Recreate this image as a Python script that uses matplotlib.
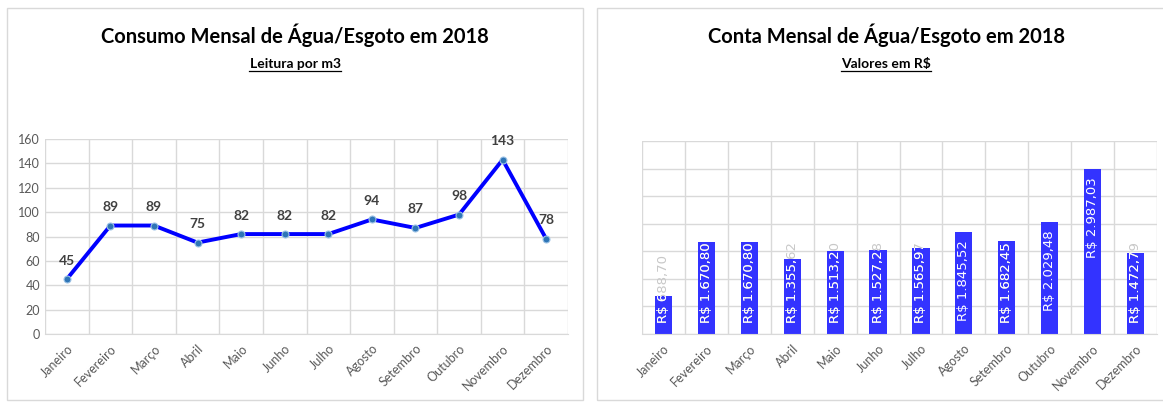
import matplotlib
matplotlib.use("Agg")
import matplotlib.pyplot as plt
from matplotlib.patches import Rectangle
from matplotlib.lines import Line2D

meses = ["Janeiro", "Fevereiro", "Março", "Abril", "Maio", "Junho", "Julho",
         "Agosto", "Setembro", "Outubro", "Novembro", "Dezembro"]
consumo_m3 = [45, 89, 89, 75, 82, 82, 82, 94, 87, 98, 143, 78]
conta_rs = [688.70, 1670.80, 1670.80, 1355.62, 1513.20, 1527.28, 1565.97,
            1845.52, 1682.45, 2029.48, 2987.03, 1472.79]

W, H = 1163, 403
FONT = "Lato"
GRID = "#D9D9D9"
TICK = "#595959"


def px_axes(fig, x0, y0, x1, y1):
    # pixel box (top-left origin) -> figure fraction
    return fig.add_axes([x0 / W, 1 - y1 / H, (x1 - x0) / W, (y1 - y0) / H])


def brl(v):
    s = f"{v:,.2f}"
    s = s.replace(",", "X").replace(".", ",").replace("X", ".")
    return "R$ " + s


def style_axes(ax):
    for side in ["top", "left", "right"]:
        ax.spines[side].set_visible(False)
    ax.spines["bottom"].set_color(GRID)
    ax.set_xlim(-0.5, len(meses) - 0.5)
    ax.set_xticks(range(len(meses)))
    ax.set_xticklabels(meses, rotation=45, ha="right", rotation_mode="anchor",
                       fontsize=9, color=TICK, family=FONT)
    ax.set_xticks([i + 0.5 for i in range(-1, len(meses))], minor=True)
    ax.tick_params(axis="x", which="both", length=0, pad=6)
    ax.tick_params(axis="y", length=0)
    ax.grid(True, axis="y", color=GRID, linewidth=1)
    ax.grid(True, axis="x", which="minor", color=GRID, linewidth=1)
    ax.grid(False, axis="x", which="major")
    ax.set_axisbelow(True)


fig = plt.figure(figsize=(W / 100, H / 100), dpi=100)

# panel borders
fig.patches.append(Rectangle((7 / W, 1 - 400 / H), 576 / W, 392 / H,
                             transform=fig.transFigure, fill=False,
                             edgecolor=GRID, linewidth=1))
fig.patches.append(Rectangle((597 / W, 1 - 400 / H), 600 / W, 392 / H,
                             transform=fig.transFigure, fill=False,
                             edgecolor=GRID, linewidth=1))

# --- consumo (linha)
ax1 = px_axes(fig, 45, 139, 568, 334)
style_axes(ax1)
ax1.set_ylim(0, 160)
ax1.set_yticks(range(0, 161, 20))
for lb in ax1.get_yticklabels():
    lb.set_fontsize(9)
    lb.set_color(TICK)
    lb.set_family(FONT)
ax1.plot(range(len(meses)), consumo_m3, color="#0000FF", linewidth=2.8,
         marker="o", markersize=5, markerfacecolor="#2E75B6",
         markeredgecolor="#9DC3E6", markeredgewidth=0.8, zorder=3)
for i, v in enumerate(consumo_m3):
    ax1.annotate(str(v), (i, v), xytext=(0, 9), textcoords="offset points",
                 ha="center", va="bottom", fontsize=10, fontweight="bold",
                 color="#404040", family=FONT)

# --- conta (barras)
ax2 = px_axes(fig, 642, 141, 1157, 334)
style_axes(ax2)
ax2.set_ylim(0, 3500)
ax2.set_yticks(range(0, 3501, 500))
ax2.set_yticklabels([])
bars = ax2.bar(range(len(meses)), conta_rs, width=0.4, color="#3333FF", zorder=2)

# labels "inside end", pushed down to the base when the bar is too short
fig.canvas.draw()
r = fig.canvas.get_renderer()
base_px = ax2.transData.transform((0, 0))[1]
pad = 8
for i, (v, b) in enumerate(zip(conta_rs, bars)):
    kw = dict(ha="center", rotation=90, fontsize=9.5, family="DejaVu Sans",
              textcoords="offset points")
    t = ax2.annotate(brl(v), (i, v), xytext=(0, -6), va="top",
                     color="white", zorder=4, **kw)
    bb = t.get_window_extent(renderer=r)
    if bb.y0 < base_px + pad:
        t.remove()
        ax2.annotate(brl(v), (i, 0), xytext=(0, 8), va="bottom",
                     color="#C8C8C8", zorder=3, **kw)
        t = ax2.annotate(brl(v), (i, 0), xytext=(0, 8), va="bottom",
                         color="white", zorder=4, **kw)
    t.set_clip_path(b)

# titles
titles = [
    (295, "Consumo Mensal de Água/Esgoto em 2018", "Leitura por m3"),
    (886, "Conta Mensal de Água/Esgoto em 2018", "Valores em R$"),
]
subs = []
for cx, title, sub in titles:
    fig.text(cx / W, 1 - 35 / H, title, ha="center", va="center",
             fontsize=14.5, fontweight="bold", family=FONT, color="black")
    st = fig.text(cx / W, 1 - 64 / H, sub, ha="center", va="center",
                  fontsize=10, fontweight="bold", family=FONT, color="black")
    subs.append(st)

# underline subtitles
fig.canvas.draw()
for st in subs:
    bb = st.get_window_extent(renderer=r)
    y = (bb.y0 - 1) / H
    fig.add_artist(Line2D([bb.x0 / W, bb.x1 / W], [y, y],
                          transform=fig.transFigure, color="black", linewidth=0.9))

fig.savefig("out.png", dpi=100)
